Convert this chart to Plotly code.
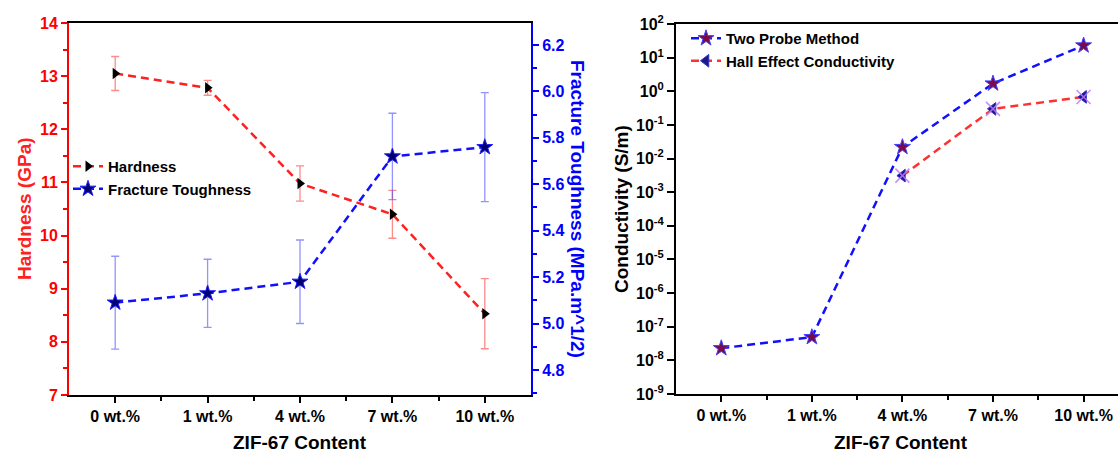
import plotly.graph_objects as go

categories = ["0 wt.%", "1 wt.%", "4 wt.%", "7 wt.%", "10 wt.%"]
hardness = [13.05, 12.78, 10.98, 10.40, 8.53]
hardness_err = [0.32, 0.14, 0.33, 0.45, 0.66]
toughness = [5.09, 5.13, 5.18, 5.72, 5.76]
toughness_err = [0.20, 0.147, 0.18, 0.186, 0.235]
two_probe = [2.3e-8, 4.9e-8, 2.2e-2, 1.7, 23.0]
hall_cats = ["4 wt.%", "7 wt.%", "10 wt.%"]
hall = [3.1e-3, 0.30, 0.68]
log_ticks = list(range(-9, 3))

xpos = list(range(len(categories)))
hall_x = [categories.index(c) for c in hall_cats]

FONT = "Liberation Sans, Arial, sans-serif"
W, H = 1118, 452
MT, MB = 23, 57
PH = H - MT - MB
DASH = "8px,5px"


def py(pixel_row):
    """pixel row (from top of page) -> paper y coordinate"""
    return ((H - MB) - pixel_row) / PH


def px(pixel_col):
    return pixel_col / W


def dom(top, bottom):
    return [max(0.0, py(bottom)), min(1.0, py(top))]


fig = go.Figure()

# ---- left panel ----
fig.add_trace(go.Scatter(
    x=xpos, y=hardness, name="Hardness", mode="lines+markers",
    line=dict(color="#ff2020", width=2.5, dash=DASH),
    marker=dict(symbol="triangle-right", size=10, color="black"),
    error_y=dict(type="data", array=hardness_err, color="rgba(255,60,60,0.6)", thickness=1.3, width=4),
    xaxis="x", yaxis="y", legend="legend"))
fig.add_trace(go.Scatter(
    x=xpos, y=toughness, name="Fracture Toughness", mode="lines+markers",
    line=dict(color="#1010ff", width=2.5, dash=DASH),
    marker=dict(symbol="star", size=12, color="#000070", line=dict(color="#2020ff", width=1)),
    error_y=dict(type="data", array=toughness_err, color="rgba(60,60,255,0.55)", thickness=1.3, width=4),
    xaxis="x", yaxis="y2", legend="legend"))

# ---- right panel ----
fig.add_trace(go.Scatter(
    x=xpos, y=two_probe, name="Two Probe Method", mode="lines+markers",
    line=dict(color="#1010ff", width=2.5, dash=DASH),
    marker=dict(symbol="star", size=12, color="#7a0a4a", line=dict(color="#4040ff", width=1)),
    xaxis="x2", yaxis="y3", legend="legend2"))
fig.add_trace(go.Scatter(
    x=hall_x, y=hall, name="Hall Effect Conductivity", mode="lines+markers",
    line=dict(color="#ff3030", width=2.5, dash=DASH),
    marker=dict(symbol="triangle-left", size=11, color="#1a1a8c", line=dict(color="#3030c0", width=1)),
    xaxis="x2", yaxis="y3", legend="legend2", legendgroup="hall"))
fig.add_trace(go.Scatter(
    x=hall_x, y=hall, mode="markers", showlegend=False, hoverinfo="skip",
    marker=dict(symbol="x-thin-open", size=14, color="rgba(190,120,255,0.85)", line=dict(width=1.5)),
    xaxis="x2", yaxis="y3", legendgroup="hall"))

tickfont_b = dict(family=FONT, size=16, color="black", weight="bold")
title_font = dict(family=FONT, size=19, color="black", weight="bold")

fig.update_layout(
    width=W, height=H, margin=dict(l=0, r=0, t=MT, b=MB, autoexpand=False),
    paper_bgcolor="white", plot_bgcolor="white",
    font=dict(family=FONT),
    xaxis=dict(domain=[px(69), px(531)], range=[-0.5, 4.5], automargin=False,
               tickmode="array", tickvals=xpos, ticktext=categories,
               showgrid=False, zeroline=False, showline=True, linecolor="black", linewidth=2, mirror=True,
               ticks="outside", ticklen=6, tickwidth=2, tickcolor="black",
               minor=dict(tickmode="array", tickvals=[p + 0.5 for p in xpos[:-1]], ticks="outside", ticklen=4, tickwidth=1.5, tickcolor="black"),
               tickfont=tickfont_b, anchor="y"),
    yaxis=dict(domain=dom(23, 395), range=[7, 14], dtick=1, automargin=False,
               showgrid=False, zeroline=False, showline=True, linecolor="#ff0000", linewidth=2,
               ticks="outside", ticklen=6, tickwidth=2, tickcolor="#ff0000",
               minor=dict(dtick=0.5, ticks="outside", ticklen=4, tickwidth=1.5, tickcolor="#ff0000"),
               tickfont=dict(family=FONT, size=16, color="#ff0000", weight="bold"), anchor="x"),
    yaxis2=dict(domain=dom(23, 395), range=[4.692, 6.295], tick0=4.8, dtick=0.2, tickformat=".1f",
                overlaying="y", side="right", anchor="x", automargin=False,
                showgrid=False, zeroline=False, showline=True, linecolor="#0000ff", linewidth=2,
                ticks="outside", ticklen=6, tickwidth=2, tickcolor="#0000ff",
                minor=dict(dtick=0.1, ticks="outside", ticklen=4, tickwidth=1.5, tickcolor="#0000ff"),
                tickfont=dict(family=FONT, size=16, color="#0000ff", weight="bold")),
    xaxis2=dict(domain=[px(676), 1.0], range=[-0.5, 4.38], automargin=False,
                tickmode="array", tickvals=xpos, ticktext=categories,
                showgrid=False, zeroline=False, showline=True, linecolor="black", linewidth=2, mirror=True,
                ticks="outside", ticklen=6, tickwidth=2, tickcolor="black",
                minor=dict(tickmode="array", tickvals=[p + 0.5 for p in xpos[:-1]], ticks="outside", ticklen=4, tickwidth=1.5, tickcolor="black"),
                tickfont=tickfont_b, anchor="y3"),
    yaxis3=dict(domain=dom(24, 394), type="log", range=[-9, 2], automargin=False,
                tickmode="array", tickvals=[10.0 ** k for k in log_ticks],
                ticktext=[f"10<sup>{k}</sup>" for k in log_ticks],
                showgrid=False, zeroline=False, showline=True, linecolor="black", linewidth=2,
                ticks="outside", ticklen=7, tickwidth=2, tickcolor="black",
                tickfont=tickfont_b, anchor="x2"),
    legend=dict(x=68 / W, y=1 - 150 / H, xref="container", yref="container", xanchor="left", yanchor="top",
                bgcolor="rgba(0,0,0,0)", font=dict(family=FONT, size=15, color="black", weight="bold"), tracegroupgap=0),
    legend2=dict(x=686 / W, y=1 - 22 / H, xref="container", yref="container", xanchor="left", yanchor="top",
                 bgcolor="rgba(0,0,0,0)", font=dict(family=FONT, size=15, color="black", weight="bold"), tracegroupgap=0),
)

ann = [
    dict(text="Hardness (GPa)", textangle=-90, x=px(24), y=py(209),
         font=dict(family=FONT, size=19, color="#ff2020", weight="bold")),
    dict(text="Fracture Toughness (MPa.m^1/2)", textangle=90, x=px(578), y=py(209),
         font=dict(family=FONT, size=19, color="#0000ff", weight="bold")),
    dict(text="ZIF-67 Content", textangle=0, x=px(300), y=py(442), font=title_font),
    dict(text="Conductivity (S/m)", textangle=-90, x=px(621), y=py(209), font=title_font),
    dict(text="ZIF-67 Content", textangle=0, x=px(901), y=py(442), font=title_font),
]
for a in ann:
    fig.add_annotation(xref="paper", yref="paper", xanchor="center", yanchor="middle", showarrow=False, **a)

fig.write_html("out.html")
